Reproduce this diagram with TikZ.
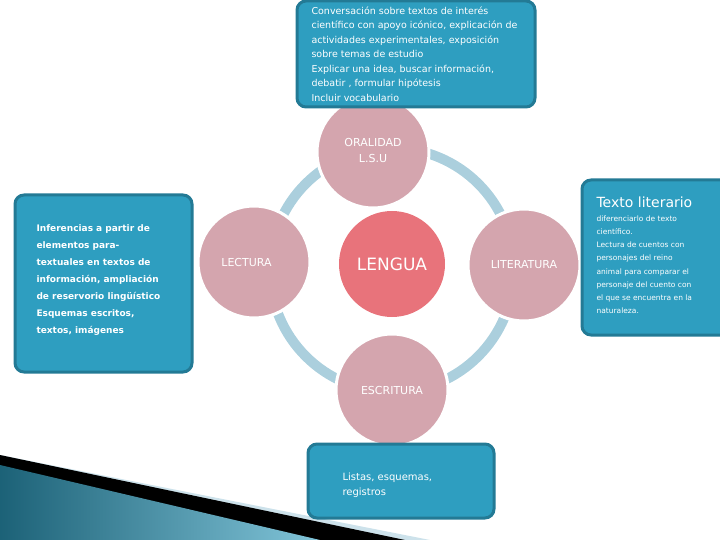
\documentclass[tikz,border=0pt]{standalone}
\usepackage{fontspec}
\setmainfont{DejaVu Sans}
\begin{document}
\begin{tikzpicture}[x=1pt,y=-1pt,
 box/.style={draw=boxb,fill=boxf,line width=3pt,rounded corners=9pt,text=white,align=left,inner sep=0pt,anchor=north west},
 pc/.style={circle,fill=pinkc,draw=white,line width=3pt,minimum size=112pt,inner sep=0pt,font=\fontsize{11}{13}\selectfont,text=white}]
\definecolor{boxf}{HTML}{2E9EC0}\definecolor{boxb}{HTML}{237A95}
\definecolor{pinkc}{HTML}{D4A5AE}\definecolor{salm}{HTML}{E8737B}
\definecolor{ringc}{HTML}{ABCFDD}
\useasboundingbox (0,0) rectangle (720,540);
% decoration
\fill[ringc!60] (0,455) -- (430,540) -- (0,540) -- cycle;
\fill[black] (0,455) -- (405,540) -- (0,540) -- cycle;
\shade[left color=boxb!80!black,right color=boxf!60] (0,465) -- (320,540) -- (0,540) -- cycle;
% ring
\draw[ringc,line width=10pt] (392,270) circle[radius=122];
% circles
\node[pc] (ora) at (373,152) {\begin{tabular}{c}ORALIDAD\\[3pt]L.S.U\end{tabular}};
\node[pc] (lec) at (254,262) {\hspace*{-15pt}LECTURA};
\node[pc] (lit) at (524,265) {LITERATURA};
\node[pc] (esc) at (392,390) {ESCRITURA};
\node[circle,fill=salm,minimum size=106pt,text=white,font=\fontsize{17}{19}\selectfont] (len) at (392,264) {LENGUA};
% boxes
\draw[box] (297,1) rectangle (535,107);
\node[anchor=north west,text=white,align=left,font=\fontsize{9.5}{14.5}\selectfont] (top) at (308,3) {Conversación sobre textos de interés\\científico con apoyo icónico, explicación de\\actividades experimentales, exposición\\sobre temas de estudio\\Explicar una idea, buscar información,\\debatir , formular hipótesis\\Incluir vocabulario};
\draw[box] (15,195) rectangle (192,372);
\node[anchor=north west,text=white,align=left,font=\bfseries\fontsize{9}{17}\selectfont] (lft) at (33,221) {Inferencias a partir de\\elementos para-\\textuales en textos de\\información, ampliación\\de reservorio lingüístico\\Esquemas escritos,\\textos, imágenes};
\draw[box] (582,180) rectangle (730,335);
\node[anchor=north west,text=white,font=\fontsize{14}{16}\selectfont] (rtt) at (593,193) {Texto literario};
\node[anchor=north west,text=white,align=left,font=\fontsize{7.5}{13.2}\selectfont] (rt) at (593,212) {diferenciarlo de texto\\científico.\\ Lectura de cuentos con\\personajes del reino\\animal para comparar el\\personaje del cuento con\\el que se encuentra en la\\naturaleza.};
\draw[box] (308,444) rectangle (494,518);
\node[anchor=north west,text=white,align=left,font=\fontsize{10}{15}\selectfont] (bot) at (339,469) {Listas, esquemas,\\registros};
\end{tikzpicture}
\end{document}
